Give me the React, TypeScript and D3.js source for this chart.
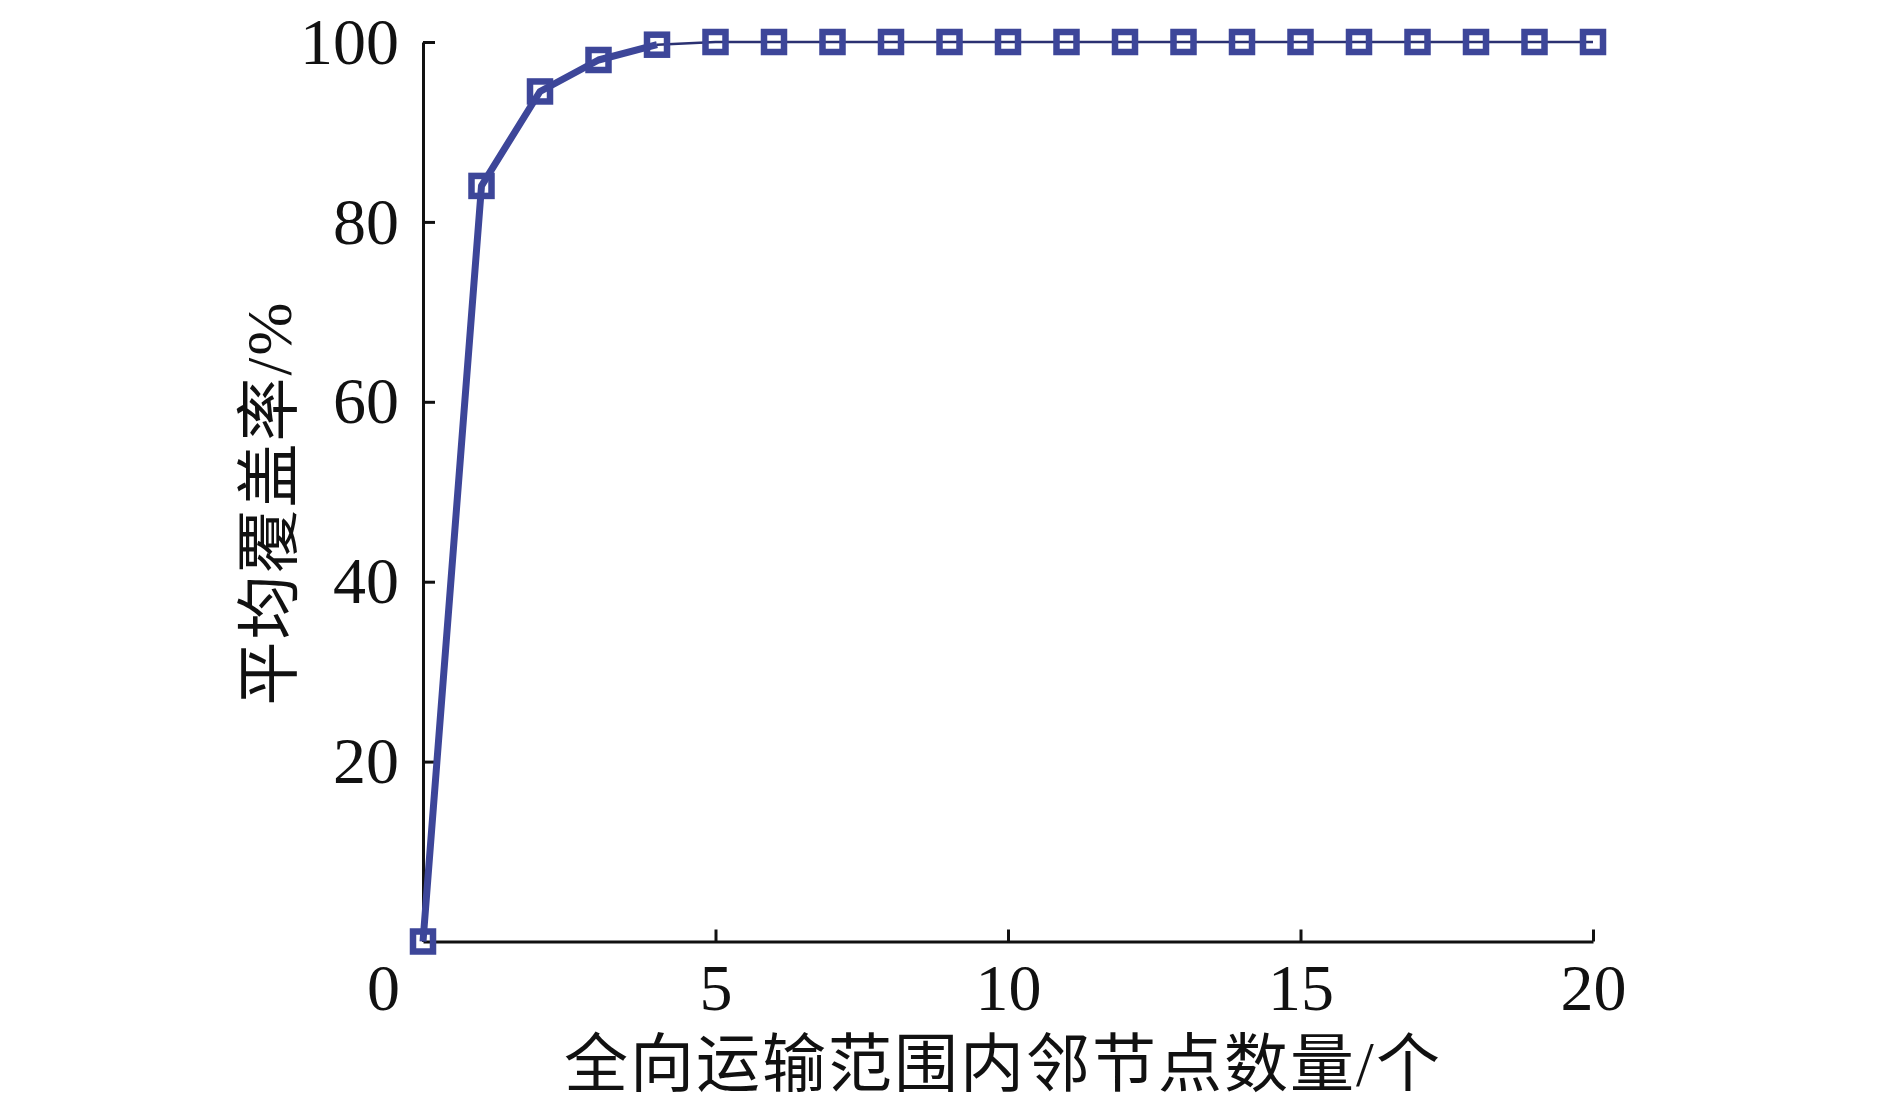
import { useEffect, useRef } from 'react';
import * as d3 from 'd3';

// neighbour count on the x axis, average coverage (%) on the y axis
const neighbours = [0, 1, 2, 3, 4, 5, 6, 7, 8, 9, 10, 11, 12, 13, 14, 15, 16, 17, 18, 19, 20];
const coverage = [0, 84, 94.5, 98, 99.7, 100, 100, 100, 100, 100, 100, 100, 100, 100, 100, 100, 100, 100, 100, 100, 100];
const xTicks = [0, 5, 10, 15, 20];
const yTicks = [20, 40, 60, 80, 100];
const xTitle = '全向运输范围内邻节点数量/个';
const yTitle = '平均覆盖率/%';

const W = 1890;
const H = 1113;
const SERIF = "'Liberation Serif', 'Times New Roman', serif";
const CJK = "'Liberation Serif', 'Noto Sans CJK SC', serif";
const BLUE = '#3d4699';

export default function App() {
    const ref = useRef<SVGSVGElement | null>(null);

    useEffect(() => {
        const svg = d3.select(ref.current);
        svg.selectAll('*').remove();

        const x = d3.scaleLinear().domain([0, 20]).range([423, 1593]);
        const y = d3.scaleLinear().domain([0, 100]).range([941.5, 42]);

        // axes, ticks pointing inward
        const gx = svg.append('g')
            .attr('transform', `translate(0,${y(0)})`)
            .call(d3.axisBottom(x).tickValues(xTicks).tickSizeInner(-12).tickSizeOuter(0).tickPadding(22));
        const gy = svg.append('g')
            .attr('transform', `translate(${x(0)},0)`)
            .call(d3.axisLeft(y).tickValues(yTicks).tickSizeInner(-12).tickSizeOuter(0).tickPadding(24));

        [gx, gy].forEach(g => {
            g.select('.domain').attr('stroke', '#111').attr('stroke-width', 3);
            g.selectAll('.tick line').attr('stroke', '#111').attr('stroke-width', 3);
            g.selectAll('.tick text')
                .attr('fill', '#111')
                .style('font-family', SERIF)
                .style('font-size', '66px');
        });
        // the "0" sits at the corner, left of the origin
        gx.selectAll<SVGTextElement, number>('.tick text')
            .filter(d => d === 0)
            .attr('x', -40);

        const lineGen = d3.line<number>()
            .x((_, i) => x(neighbours[i]))
            .y(d => y(d));

        // rising part drawn heavy, the flat tail thin
        const split = 4;
        svg.append('path')
            .datum(coverage.slice(0, split + 1))
            .attr('fill', 'none')
            .attr('stroke', BLUE)
            .attr('stroke-width', 7)
            .attr('stroke-linejoin', 'round')
            .attr('d', lineGen);
        const tailGen = d3.line<number>()
            .x((_, i) => x(neighbours[i + split]))
            .y(d => y(d));
        svg.append('path')
            .datum(coverage.slice(split))
            .attr('fill', 'none')
            .attr('stroke', '#2b3172')
            .attr('stroke-width', 2.5)
            .attr('d', tailGen);

        const size = 20;
        svg.append('g')
            .selectAll('rect')
            .data(coverage)
            .join('rect')
            .attr('x', (_, i) => x(neighbours[i]) - size / 2)
            .attr('y', d => y(d) - size / 2)
            .attr('width', size)
            .attr('height', size)
            .attr('fill', 'none')
            .attr('stroke', BLUE)
            .attr('stroke-width', 6.5);

        svg.append('text')
            .attr('x', 1003)
            .attr('y', 1064)
            .attr('text-anchor', 'middle')
            .attr('dominant-baseline', 'central')
            .attr('fill', '#111')
            .style('font-family', CJK)
            .style('font-size', '64px')
            .style('letter-spacing', '2px')
            .text(xTitle);

        svg.append('text')
            .attr('transform', 'translate(269,503) rotate(-90)')
            .attr('text-anchor', 'middle')
            .attr('dominant-baseline', 'central')
            .attr('fill', '#111')
            .style('font-family', CJK)
            .style('font-size', '64px')
            .style('letter-spacing', '2px')
            .text(yTitle);
    }, []);

    return (
        <svg
            ref={ref}
            width={W}
            height={H}
            style={{ position: 'absolute', left: 0, top: 0, background: '#fff' }}
        />
    );
}
